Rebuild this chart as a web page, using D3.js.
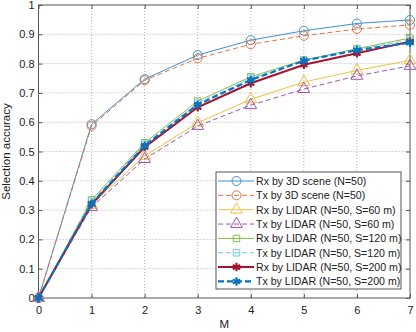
<!DOCTYPE html>
<html><head><meta charset="utf-8">
<script src="https://cdn.jsdelivr.net/npm/d3@7"></script>
<style>body{margin:0;background:#fff}svg{display:block;font-family:"Liberation Sans",Arial,sans-serif}</style>
</head><body><svg id="c" width="416" height="332"></svg>
<script>
const M = [0,1,2,3,4,5,6,7];
const rx3d   = [0,0.593,0.747,0.829,0.880,0.912,0.937,0.949];
const tx3d   = [0,0.587,0.743,0.818,0.866,0.895,0.918,0.932];
const rx60   = [0,0.318,0.485,0.598,0.678,0.737,0.777,0.811];
const tx60   = [0,0.310,0.474,0.587,0.658,0.713,0.758,0.792];
const rx120  = [0,0.335,0.530,0.672,0.755,0.812,0.851,0.887];
const tx120  = [0,0.330,0.525,0.665,0.750,0.810,0.849,0.880];
const rx200  = [0,0.320,0.515,0.651,0.733,0.796,0.835,0.875];
const tx200  = [0,0.322,0.520,0.660,0.744,0.810,0.846,0.871];
const labels = ["Rx by 3D scene (N=50)","Tx by 3D scene (N=50)","Rx by LIDAR (N=50, S=60 m)","Tx by LIDAR (N=50, S=60 m)",
  "Rx by LIDAR (N=50, S=120 m)","Tx by LIDAR (N=50, S=120 m)","Rx by LIDAR (N=50, S=200 m)","Tx by LIDAR (N=50, S=200 m)"];
const xTicks = [0,1,2,3,4,5,6,7];
const yTicks = [0,0.1,0.2,0.3,0.4,0.5,0.6,0.7,0.8,0.9,1];

const series = [
 {v:rx3d, c:"#3d91d4", w:1, dash:null, m:"circle"},
 {v:tx3d, c:"#e5743f", w:1, dash:"5,3", m:"circle"},
 {v:rx60, c:"#f0c142", w:1, dash:null, m:"triangle"},
 {v:tx60, c:"#9c58b4", w:1, dash:"5,3", m:"triangle"},
 {v:rx120,c:"#86bd4c", w:1, dash:null, m:"square"},
 {v:tx120,c:"#6fcbf2", w:1, dash:"5,3", m:"square"},
 {v:rx200,c:"#a2142f", w:2, dash:null, m:"star"},
 {v:tx200,c:"#0a72bd", w:2.2, dash:"6,3", m:"star"}
];

const L=38.5,R=410,T=5,B=298;
const svg=d3.select("#c");
const x=d3.scaleLinear().domain([0,7]).range([L,R]);
const y=d3.scaleLinear().domain([0,1]).range([B,T]);

// grid
const g=svg.append("g");
g.selectAll(".vg").data(xTicks.slice(1,-1)).join("line").attr("x1",d=>x(d)).attr("x2",d=>x(d)).attr("y1",T).attr("y2",B)
 .attr("stroke","#b0b0b0").attr("stroke-width",1).attr("stroke-dasharray","1,2");
g.selectAll(".hg").data(yTicks.slice(1,-1)).join("line").attr("y1",d=>y(d)).attr("y2",d=>y(d)).attr("x1",L).attr("x2",R)
 .attr("stroke","#b0b0b0").attr("stroke-width",1).attr("stroke-dasharray","1,2");

// axes
const xa=svg.append("g").attr("transform",`translate(0,${B})`).call(d3.axisBottom(x).tickValues(xTicks).tickSize(-4).tickPadding(8).tickFormat(d3.format("d")));
const ya=svg.append("g").attr("transform",`translate(${L},0)`).call(d3.axisLeft(y).tickValues(yTicks).tickSize(-4).tickPadding(4).tickFormat(d=>d===0?"0":d===1?"1":d3.format(".1f")(d)));
[xa,ya].forEach(a=>{a.select(".domain").remove();a.selectAll("line").attr("stroke","#555");a.selectAll("text").attr("fill","#222").style("font-size","11px").style("font-family","'Liberation Sans',Arial,sans-serif");});
// top/right ticks
svg.append("g").attr("transform",`translate(0,${T})`).call(d3.axisTop(x).tickValues(xTicks).tickSize(-4).tickFormat("")).call(a=>{a.select(".domain").remove();a.selectAll("line").attr("stroke","#555");});
svg.append("g").attr("transform",`translate(${R},0)`).call(d3.axisRight(y).tickValues(yTicks).tickSize(-4).tickFormat("")).call(a=>{a.select(".domain").remove();a.selectAll("line").attr("stroke","#555");});
svg.append("rect").attr("x",L).attr("y",T).attr("width",R-L).attr("height",B-T).attr("fill","none").attr("stroke","#555").attr("stroke-width",1);

const line=d3.line().x((d,i)=>x(M[i])).y(d=>y(d));
function marker(sel,m,c,w){
  if(m==="circle") return sel.append("circle").attr("r",4.5).attr("fill","none").attr("stroke",c).attr("stroke-width",1);
  if(m==="triangle") return sel.append("path").attr("d",d3.symbol(d3.symbolTriangle,60)()).attr("fill","none").attr("stroke",c).attr("stroke-width",1);
  if(m==="square") return sel.append("path").attr("d",d3.symbol(d3.symbolSquare,42)()).attr("fill","none").attr("stroke",c).attr("stroke-width",1);
  return sel.append("path").attr("d",d3.symbol(d3.symbolAsterisk,50)()).attr("fill","none").attr("stroke",c).attr("stroke-width",2.2);
}
series.forEach(s=>{
  svg.append("path").datum(s.v).attr("d",line).attr("fill","none").attr("stroke",s.c).attr("stroke-width",s.w).attr("stroke-dasharray",s.dash);
  s.v.forEach((v,i)=>{const gg=svg.append("g").attr("transform",`translate(${x(M[i])},${y(v)})`);marker(gg,s.m,s.c,s.w);});
});

// legend
const lg=svg.append("g");
lg.append("rect").attr("x",216).attr("y",172).attr("width",185).attr("height",117).attr("fill","#fff").attr("stroke","#555").attr("stroke-width",1);
series.forEach((s,i)=>{
  const yy=181+i*14.35;
  lg.append("line").attr("x1",218).attr("x2",254).attr("y1",yy).attr("y2",yy).attr("stroke",s.c).attr("stroke-width",s.w).attr("stroke-dasharray",s.dash);
  const gg=lg.append("g").attr("transform",`translate(236.5,${yy})`);marker(gg,s.m,s.c,s.w);
  lg.append("text").attr("x",256).attr("y",yy+4).text(labels[i]).attr("fill","#222").style("font-size","10.6px");
});

svg.append("text").attr("x",(L+R)/2).attr("y",328).attr("text-anchor","middle").text("M").attr("fill","#222").style("font-size","11.5px");
svg.append("text").attr("transform",`translate(10,${(T+B)/2}) rotate(-90)`).attr("text-anchor","middle").text("Selection accuracy").attr("fill","#222").style("font-size","11.5px");
</script></body></html>
